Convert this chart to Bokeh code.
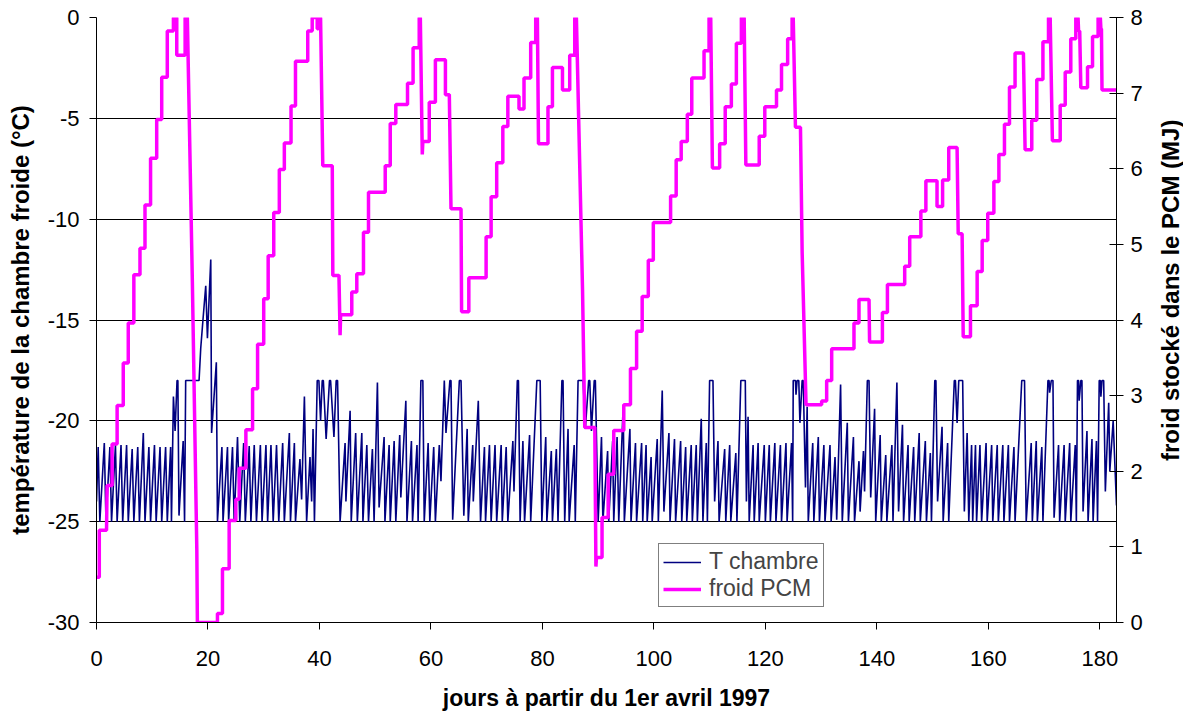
from math import pi
from bokeh.plotting import figure
from bokeh.layouts import row
from bokeh.models import Range1d, LinearAxis, FixedTicker, PrintfTickFormatter, Label
from bokeh.embed import file_html
from bokeh.resources import INLINE

# ---------------- data ----------------
X_TICKS = [0, 20, 40, 60, 80, 100, 120, 140, 160, 180]
LEFT_TICKS = [-30, -25, -20, -15, -10, -5, 0]
RIGHT_TICKS = [0, 1, 2, 3, 4, 5, 6, 7, 8]

# T chambre : (day, °C) vertices of the cold-room temperature
T_CHAMBRE = [
    (0.0, -24.0), (0.3, -21.3), (0.6, -25), (1.4, -21.1), (1.7, -25), (2.4, -21.3), (2.7, -25),
    (3.4, -21.2), (3.7, -25), (4.4, -21.2), (4.7, -25), (5.4, -21.2), (5.7, -25), (6.4, -21.4),
    (6.7, -25), (7.4, -21.3), (7.7, -25), (8.4, -20.6), (8.7, -25), (9.4, -21.3), (9.7, -25),
    (10.4, -21.2), (10.7, -25), (11.4, -21.3), (11.7, -25), (12.4, -21.3), (12.7, -25),
    (13.3, -21.3), (13.45, -25), (13.8, -18.8), (14.1, -20.5), (14.45, -18.0), (14.6, -18.0),
    (14.8, -24.7), (15.55, -21.0), (15.8, -25.0), (16.0, -18.0), (18.4, -18.0), (18.7, -16.4),
    (19.1, -15.0), (19.6, -13.3), (19.9, -15.9), (20.5, -12.0), (20.65, -20.6), (21.5, -17.1),
    (21.7, -25.0),
    (22.5, -21.3), (22.7, -25), (23.5, -21.3), (23.7, -25), (24.4, -21.3), (24.7, -25),
    (25.3, -20.8), (25.7, -25), (26.4, -21.1), (26.7, -25), (27.4, -21.25), (27.7, -25),
    (28.3, -21.2), (28.7, -25), (29.4, -21.2), (29.7, -25), (30.4, -21.2), (30.7, -25),
    (31.3, -21.2), (31.7, -25), (32.3, -21.2), (32.7, -25), (33.4, -21.1), (33.7, -25),
    (34.6, -20.6), (34.8, -25), (35.5, -21.1), (35.7, -25),
    (36.5, -21.9), (36.8, -23.9), (37.3, -18.8), (37.7, -25), (38.3, -21.8), (38.6, -24.0),
    (38.85, -20.4), (39.1, -25), (39.6, -18.0), (39.9, -18.0), (40.2, -20.0), (40.5, -18.0),
    (40.7, -18.0), (41.2, -20.9), (41.8, -18.0), (42.0, -18.0), (42.6, -20.8), (43.0, -18.0),
    (43.25, -18.0), (43.7, -25),
    (44.6, -21.1), (44.75, -24.0), (45.5, -19.5), (45.7, -25), (46.5, -20.6), (46.8, -25),
    (47.6, -20.6), (47.8, -25), (48.5, -21.2), (48.8, -25), (49.5, -21.4), (49.8, -25),
    (50.4, -18.1), (50.7, -24.3), (51.6, -20.8), (51.75, -25), (52.5, -21.2), (52.7, -25),
    (53.4, -21.0), (53.7, -25), (54.4, -20.7), (54.6, -23.8), (55.5, -19.0), (55.7, -25),
    (56.5, -21.0), (56.7, -25), (57.5, -21.2), (57.7, -25), (58.2, -18.0), (58.55, -18.0),
    (58.8, -25), (59.5, -21.1), (59.8, -25), (60.5, -21.3), (60.8, -25), (61.5, -21.2),
    (61.8, -23.0), (62.4, -18.0), (62.7, -20.6), (63.4, -18.0), (63.6, -18.0), (63.9, -24.9),
    (65.1, -18.0), (65.4, -18.0), (65.9, -24.7), (66.5, -20.4), (66.7, -25), (67.5, -21.2),
    (67.6, -24.0), (68.5, -19.0), (68.9, -25), (69.6, -21.3), (69.8, -25), (70.5, -21.2),
    (70.8, -25), (71.5, -21.2), (71.8, -25), (72.6, -21.2), (72.8, -25), (73.5, -21.3),
    (73.8, -25), (74.7, -21.0), (74.9, -23.5), (75.5, -18.0), (75.7, -18.0), (76.0, -25),
    (76.5, -21.0), (76.8, -25), (77.7, -20.7), (77.9, -25), (79.0, -18.0), (79.6, -18.0),
    (79.9, -25), (80.6, -20.8), (80.8, -25), (81.6, -21.5), (81.8, -25), (82.5, -21.4),
    (82.8, -25), (83.5, -18.0), (83.7, -18.0), (84.0, -25), (84.6, -20.4), (84.8, -25),
    (85.7, -21.2), (85.9, -25), (86.4, -18.0), (87.3, -18.0), (87.7, -20.4), (88.3, -18.0),
    (88.5, -18.0), (88.8, -20.5), (89.3, -18.0), (89.5, -18.0), (90.0, -25),
    (90.6, -20.8), (90.85, -25), (91.7, -21.5), (91.9, -25), (92.6, -21.0), (92.8, -25),
    (93.4, -20.8), (93.7, -25), (94.5, -19.2), (94.7, -25), (95.7, -20.4), (95.9, -25),
    (96.7, -21.1), (96.9, -25), (97.8, -21.1), (98.0, -25), (98.6, -21.2), (98.8, -25),
    (99.5, -21.8), (99.7, -25), (100.6, -20.9), (100.8, -25), (101.5, -18.5), (101.8, -24.5),
    (102.7, -20.6), (102.9, -25), (103.7, -20.9), (103.9, -25), (104.8, -21.0), (105.0, -25),
    (105.7, -21.3), (105.9, -25), (106.7, -21.2), (106.9, -25), (107.6, -21.2), (107.8, -25),
    (108.5, -19.9), (108.8, -25), (109.4, -21.1), (109.6, -25), (110.0, -18.0), (110.6, -18.0),
    (110.9, -24.0), (111.5, -21.0), (111.7, -25), (112.7, -21.4), (112.9, -25), (113.6, -21.2),
    (113.8, -25), (114.7, -21.6), (114.9, -25), (115.6, -18.0), (116.4, -18.0), (116.6, -24.0),
    (116.9, -19.8), (117.1, -25), (117.8, -21.2), (118.0, -25), (118.7, -21.1), (118.9, -25),
    (119.8, -21.2), (120.0, -25), (120.7, -21.2), (120.9, -25), (121.7, -21.1), (121.9, -25),
    (122.7, -21.2), (122.9, -25), (123.7, -21.1), (123.9, -25), (124.7, -21.1), (124.9, -25),
    (125.0, -18.0), (125.4, -18.0), (125.5, -18.7), (125.7, -18.0), (126.0, -18.0),
    (126.2, -20.1), (126.6, -18.0), (126.8, -18.0), (127.2, -23.3), (127.5, -19.3),
    (127.7, -25), (128.5, -21.1), (128.7, -25), (129.5, -20.8), (129.7, -25), (130.5, -21.2),
    (130.7, -25), (131.6, -21.2), (131.8, -25), (132.5, -21.8), (132.8, -24.9), (133.5, -18.2),
    (133.8, -25), (134.7, -20.1), (134.9, -25), (135.8, -20.8), (136.0, -25),
    (136.8, -22.0), (137.0, -24.5), (137.6, -21.5), (137.8, -23.5), (138.3, -18.0),
    (138.6, -18.0), (138.9, -23.8), (139.6, -19.4), (139.8, -25), (140.6, -20.7), (140.8, -25),
    (141.6, -21.7), (141.8, -25), (142.7, -21.2), (142.9, -25), (143.6, -18.1), (143.9, -24.5),
    (144.6, -20.2), (144.8, -25), (145.6, -21.2), (145.8, -25), (146.6, -21.3), (146.8, -25),
    (147.6, -20.6), (147.8, -25), (148.7, -21.0), (148.9, -25), (149.6, -21.6), (149.8, -25),
    (150.4, -18.0), (150.6, -18.0), (150.9, -24.0), (151.7, -20.3), (151.9, -25),
    (152.7, -21.1), (152.9, -25), (153.9, -18.0), (154.1, -18.0), (154.4, -20.1),
    (154.7, -18.0), (155.4, -18.0), (155.7, -24.5), (156.2, -20.6), (156.5, -25),
    (157.0, -21.2), (157.2, -25), (157.7, -21.2), (157.9, -25), (158.5, -21.2), (158.8, -25),
    (159.6, -21.1), (159.8, -25), (160.6, -21.2), (160.8, -25), (161.6, -21.2), (161.8, -25),
    (162.6, -21.2), (162.8, -25), (163.6, -21.2), (163.8, -25), (164.6, -21.3), (164.8, -25),
    (166.0, -18.0), (166.5, -18.0), (166.8, -25), (167.7, -21.1), (167.9, -25), (168.6, -21.0),
    (168.8, -25), (169.6, -21.3), (169.8, -25), (170.7, -18.0), (170.9, -18.0), (171.0, -18.6),
    (171.3, -18.0), (171.6, -18.0), (171.8, -24.8), (172.6, -21.2), (172.8, -25),
    (173.6, -21.2), (173.8, -25), (174.6, -21.1), (174.8, -25), (175.6, -21.2), (175.8, -25),
    (176.0, -18.0), (176.2, -18.0), (176.3, -19.0), (176.6, -18.0), (176.8, -18.0),
    (177.0, -24.5), (177.7, -20.5), (177.9, -25), (178.6, -20.9), (178.8, -25), (179.4, -21.0),
    (179.6, -25), (179.9, -18.0), (180.1, -18.0), (180.2, -18.8), (180.4, -18.0),
    (180.7, -18.0), (181.0, -23.5), (181.6, -19.1), (181.8, -22.5), (182.4, -20.0),
    (183.0, -24.2),
]

# froid PCM : (day, MJ) vertices of the cold stored in the PCM
FROID_PCM = [
    (0.1, 0.60), (0.5, 0.60), (0.5, 1.22), (1.8, 1.22), (1.9, 1.81), (2.8, 1.81), (2.8, 2.36),
    (3.7, 2.36), (3.7, 2.87), (4.8, 2.87), (4.8, 3.43), (5.7, 3.43), (5.7, 3.96), (6.7, 3.96),
    (6.7, 4.60), (7.8, 4.60), (7.8, 4.95), (8.7, 4.95), (8.7, 5.52), (9.7, 5.52), (9.7, 6.14),
    (10.8, 6.14), (10.8, 6.65), (11.7, 6.65), (11.7, 7.21), (12.7, 7.21), (12.7, 7.82),
    (13.8, 7.82), (13.8, 8.0), (14.4, 8.0), (14.4, 7.50), (15.9, 7.50), (15.9, 8.0),
    (16.3, 8.0), (17.2, 4.5), (18.0, 0.96), (18.1, 0.0), (21.7, 0.0), (21.7, 0.12),
    (22.6, 0.12), (22.6, 0.71), (23.8, 0.71), (23.8, 1.35), (25.0, 1.35), (25.0, 1.63),
    (25.6, 1.63), (25.6, 2.04), (26.8, 2.04), (26.8, 2.55), (28.0, 2.55), (28.0, 3.09),
    (28.9, 3.09), (28.9, 3.68), (30.0, 3.68), (30.0, 4.28), (30.8, 4.28), (30.8, 4.85),
    (31.8, 4.85), (31.8, 5.42), (32.8, 5.42), (32.8, 5.99), (33.7, 5.99), (33.7, 6.34),
    (34.9, 6.34), (34.9, 6.83), (35.7, 6.83), (35.7, 7.42), (37.9, 7.42), (37.9, 7.82),
    (38.7, 7.82), (38.7, 8.0), (39.6, 8.0), (39.6, 7.85), (39.8, 7.85), (39.8, 8.0),
    (40.2, 8.0), (40.6, 6.04), (42.3, 6.04), (42.4, 4.59), (43.5, 4.59), (43.7, 3.80),
    (43.8, 4.07), (45.8, 4.07), (45.8, 4.37), (46.7, 4.37), (46.7, 4.61), (47.9, 4.61),
    (47.9, 5.16), (48.8, 5.16), (48.8, 5.69), (51.8, 5.69), (51.8, 6.04), (52.7, 6.04),
    (52.7, 6.60), (53.7, 6.60), (53.7, 6.85), (55.8, 6.85), (55.8, 7.13), (56.8, 7.13),
    (56.8, 7.60), (57.9, 7.60), (57.9, 8.0), (58.1, 8.0), (58.45, 6.19), (58.55, 6.36),
    (59.7, 6.36), (59.7, 6.88), (60.8, 6.88), (60.8, 7.44), (62.6, 7.44), (62.6, 6.98),
    (63.3, 6.98), (63.6, 5.47), (65.4, 5.47), (65.5, 4.11), (66.8, 4.11), (66.8, 4.56),
    (69.9, 4.56), (69.9, 5.10), (70.8, 5.10), (70.8, 5.63), (71.8, 5.63), (71.8, 6.08),
    (72.9, 6.08), (72.9, 6.56), (73.8, 6.56), (73.8, 6.96), (75.8, 6.96), (75.8, 6.79),
    (76.7, 6.79), (76.7, 7.20), (77.9, 7.20), (77.9, 7.67), (78.8, 7.67), (78.8, 8.0),
    (79.1, 8.0), (79.3, 6.33), (81.0, 6.33), (81.0, 6.82), (81.8, 6.82), (81.8, 7.34),
    (83.6, 7.34), (83.6, 7.04), (84.9, 7.04), (84.9, 7.50), (85.8, 7.50), (85.8, 8.0),
    (86.1, 8.0), (87.2, 4.4), (87.6, 2.58), (89.4, 2.58), (89.6, 0.74), (89.7, 0.86),
    (90.7, 0.86), (90.7, 1.39), (91.8, 1.39), (91.8, 1.96), (92.8, 1.96), (92.8, 2.54),
    (94.6, 2.54), (94.6, 2.88), (95.8, 2.88), (95.8, 3.36), (96.9, 3.36), (96.9, 3.85),
    (97.9, 3.85), (97.9, 4.31), (99.0, 4.31), (99.0, 4.79), (99.9, 4.79), (99.9, 5.29),
    (103.0, 5.29), (103.0, 5.64), (104.0, 5.64), (104.0, 6.12), (104.9, 6.12), (104.9, 6.36),
    (106.0, 6.36), (106.0, 6.72), (106.8, 6.72), (106.8, 7.20), (109.0, 7.20), (109.0, 7.56),
    (109.9, 7.56), (109.9, 8.0), (110.2, 8.0), (110.5, 6.01), (111.8, 6.01), (111.8, 6.33),
    (112.8, 6.33), (112.8, 6.82), (113.9, 6.82), (113.9, 7.12), (114.8, 7.12), (114.8, 7.66),
    (115.7, 7.66), (115.7, 8.0), (116.2, 8.0), (116.5, 6.05), (118.9, 6.05), (118.9, 6.43),
    (119.9, 6.43), (119.9, 6.82), (122.0, 6.82), (122.0, 7.04), (122.9, 7.04), (122.9, 7.38),
    (124.0, 7.38), (124.0, 7.72), (124.8, 7.72), (124.8, 8.0), (125.0, 8.0), (125.4, 6.55),
    (126.3, 6.55), (126.6, 4.90), (127.3, 2.88), (130.1, 2.88), (130.1, 2.93), (131.0, 2.93),
    (131.0, 3.20), (131.9, 3.20), (131.9, 3.62), (135.9, 3.62), (135.9, 3.96), (136.8, 3.96),
    (136.8, 4.27), (138.6, 4.27), (138.7, 3.71), (141.0, 3.71), (141.0, 4.10), (141.9, 4.10),
    (141.9, 4.47), (145.0, 4.47), (145.0, 4.71), (145.9, 4.71), (145.9, 5.10), (147.9, 5.10),
    (147.9, 5.44), (148.8, 5.44), (148.8, 5.84), (150.8, 5.84), (150.8, 5.50), (151.8, 5.50),
    (151.8, 5.85), (152.9, 5.85), (152.9, 6.28), (154.4, 6.28), (154.6, 5.14), (155.3, 5.14),
    (155.5, 3.78), (156.8, 3.78), (156.8, 4.19), (158.0, 4.19), (158.0, 4.64), (158.9, 4.64),
    (158.9, 5.05), (159.9, 5.05), (159.9, 5.41), (161.0, 5.41), (161.0, 5.83), (161.9, 5.83),
    (161.9, 6.19), (162.9, 6.19), (162.9, 6.59), (163.8, 6.59), (163.8, 7.08), (164.8, 7.08),
    (164.8, 7.53), (166.3, 7.53), (166.6, 6.25), (167.8, 6.25), (167.8, 6.64), (168.7, 6.64),
    (168.7, 7.18), (169.8, 7.18), (169.8, 7.68), (170.8, 7.68), (170.8, 8.0), (171.1, 8.0),
    (171.5, 6.37), (172.9, 6.37), (172.9, 6.84), (173.8, 6.84), (173.8, 7.28), (174.8, 7.28),
    (174.8, 7.72), (175.7, 7.72), (175.7, 8.0), (176.1, 8.0), (176.2, 7.82), (176.4, 7.82),
    (176.6, 7.07), (177.8, 7.07), (177.8, 7.35), (178.7, 7.35), (178.7, 7.75), (179.7, 7.75),
    (179.7, 8.0), (180.1, 8.0), (180.2, 7.85), (180.3, 7.85), (180.4, 7.04), (183.0, 7.04),
]

t_day = [d for d, _ in T_CHAMBRE]
t_temp = [v for _, v in T_CHAMBRE]
pcm_day = [d for d, _ in FROID_PCM]
pcm_mj = [v for _, v in FROID_PCM]

FONT = "Liberation Sans"
TOTAL_H = 713
SIDE_W = 27

p = figure(width=1183 - SIDE_W, height=TOTAL_H, x_range=Range1d(0, 183), y_range=Range1d(-30, 0),
           output_backend="svg", toolbar_location=None,
           min_border_left=96, min_border_right=1183 - SIDE_W - 1116,
           min_border_top=17, min_border_bottom=87)
p.outline_line_color = None
p.background_fill_color = "white"
p.border_fill_color = "white"
p.extra_y_ranges = {"pcm": Range1d(0, 8)}

# grid
p.xgrid.visible = False
p.ygrid.ticker = FixedTicker(ticks=LEFT_TICKS)
p.ygrid.grid_line_color = "black"
p.ygrid.grid_line_width = 1

# axes
p.xaxis.ticker = FixedTicker(ticks=X_TICKS)
p.yaxis.ticker = FixedTicker(ticks=LEFT_TICKS)
p.yaxis.formatter = PrintfTickFormatter(format="%d")
right = LinearAxis(y_range_name="pcm", ticker=FixedTicker(ticks=RIGHT_TICKS))
p.add_layout(right, "right")

for ax in (p.xaxis[0], p.yaxis[0], right):
    ax.major_label_text_font = FONT
    ax.major_label_text_font_size = "22px"
    ax.major_label_text_color = "black"
    ax.axis_line_color = "black"
    ax.axis_line_width = 1
    ax.major_tick_line_color = "black"
    ax.minor_tick_line_color = None
    ax.major_tick_in = 0
    ax.major_tick_out = 7
    ax.axis_label_text_font = FONT
    ax.axis_label_text_font_style = "bold"
    ax.axis_label_text_font_size = "24px"
    ax.axis_label_text_color = "black"
p.xaxis.axis_label_text_font_size = "23px"
p.xaxis.major_label_standoff = 21
p.yaxis[0].major_label_standoff = 10
right.major_tick_in = 7
right.major_label_standoff = 7

p.xaxis.axis_label = "jours à partir du 1er avril 1997"
p.xaxis.axis_label_standoff = 16
p.yaxis[0].axis_label = "température de la chambre froide (°C)"
p.yaxis[0].axis_label_standoff = 11

# series
r1 = p.line(t_day, t_temp, line_color="#000080", line_width=1.6, legend_label="T chambre")
r2 = p.line(pcm_day, pcm_mj, y_range_name="pcm", line_color="#FF00FF", line_width=3.5,
            legend_label="froid PCM")

# legend
lg = p.legend[0]
lg.location = (562, 15)
lg.border_line_color = "black"
lg.border_line_width = 1
lg.background_fill_color = "white"
lg.background_fill_alpha = 1
lg.label_text_font = FONT
lg.label_text_font_size = "23px"
lg.glyph_width = 38
lg.glyph_height = 24
lg.label_height = 24
lg.label_standoff = 8
lg.padding = 4
lg.spacing = 0
lg.margin = 0

# right-hand axis title (reads bottom-to-top, like the left one)
side = figure(width=SIDE_W, height=TOTAL_H, x_range=Range1d(0, 1), y_range=Range1d(0, TOTAL_H),
              output_backend="svg", toolbar_location=None, min_border=0)
side.axis.visible = False
side.grid.visible = False
side.outline_line_color = None
side.background_fill_color = "white"
side.border_fill_color = "white"
side.add_layout(Label(x=0.5, y=TOTAL_H - (17 + 626) / 2, text="froid stocké dans le PCM (MJ)",
                      angle=pi / 2, text_align="center", text_baseline="middle",
                      text_font=FONT, text_font_style="bold", text_font_size="24px",
                      text_color="black"))

layout = row(p, side, spacing=0)
open("out.html", "w").write(file_html(layout, INLINE))
